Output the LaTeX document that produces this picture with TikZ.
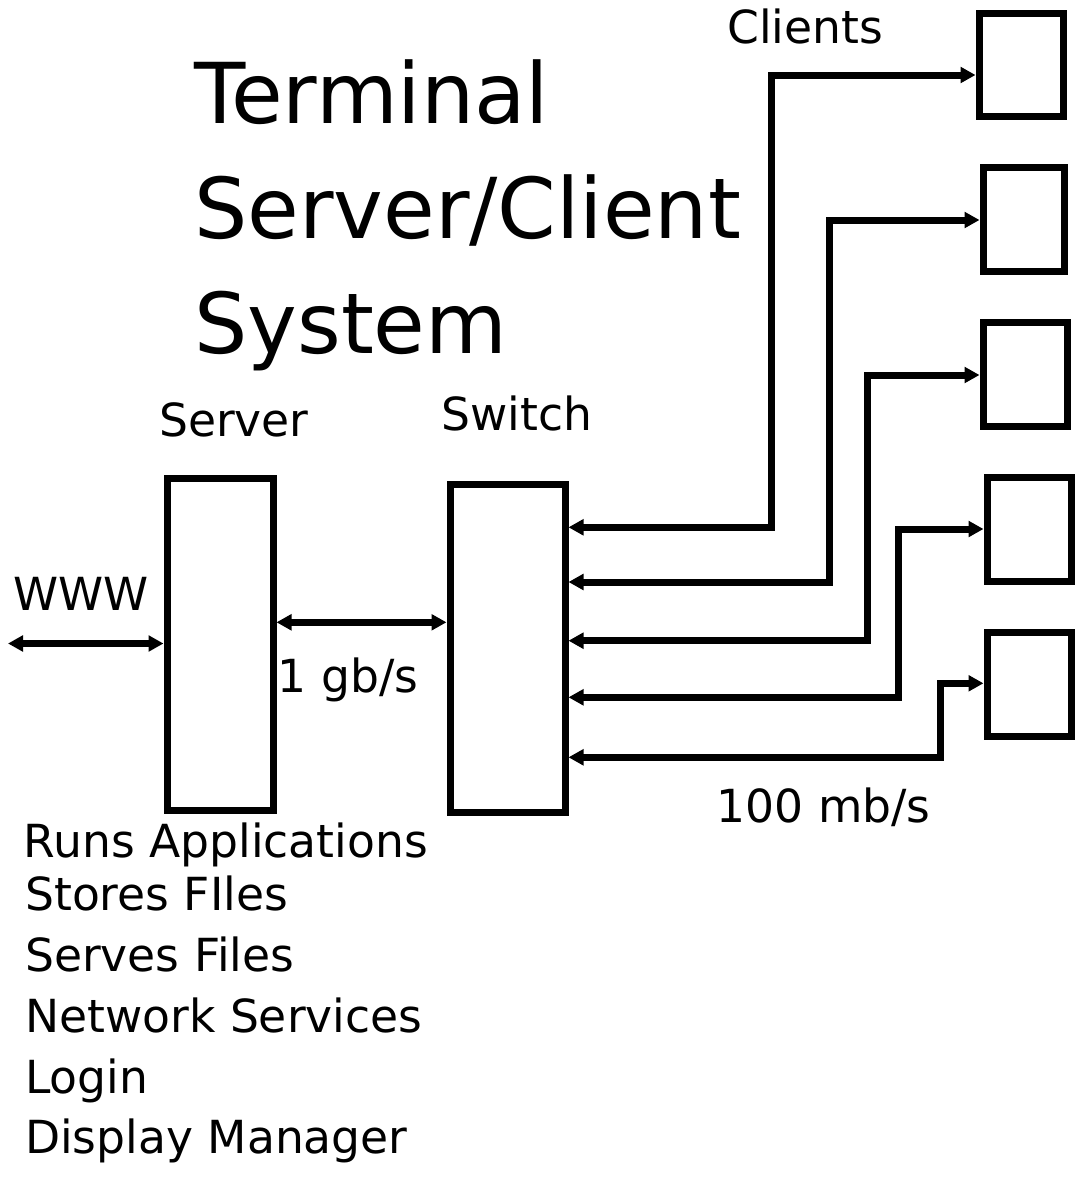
\documentclass[tikz,border=0pt]{standalone}
\usepackage{fontspec}
\setmainfont{DejaVu Sans}
\usetikzlibrary{arrows.meta}
\begin{document}
\begin{tikzpicture}[x=1pt,y=-1pt,
  box/.style={draw=black,line width=7pt,inner sep=0pt,fill=none},
  conn/.style={line width=7pt,{Triangle[length=15pt,width=15.5pt]}-{Triangle[length=15pt,width=15.5pt]}},
  lbl/.style={anchor=base west,inner sep=0pt,font=\fontsize{45.6}{54}\selectfont},
  ttl/.style={anchor=base west,inner sep=0pt,font=\fontsize{84}{115}\selectfont}]
\useasboundingbox[fill=white] (0,0) rectangle (1075,1186);
% title
\node[ttl] (t1) at (194,123.3) {Terminal};
\node[ttl] (t2) at (194,238.3) {Server/Client};
\node[ttl] (t3) at (194,353.3) {System};
% labels
\node[lbl] (lclients) at (727,43) {Clients};
\node[lbl] (lserver) at (159,436) {Server};
\node[lbl] (lswitch) at (441.5,430) {Switch};
\node[lbl] (lwww) at (13.5,610) {WWW};
\node[lbl] (lgb) at (277.5,692) {1 gb/s};
\node[lbl] (lmb) at (716.5,822) {100 mb/s};
% list
\node[lbl] (r1) at (23.5,857) {Runs Applications};
\node[lbl] (r2) at (25,910) {Stores FIles};
\node[lbl] (r3) at (25,971.7) {Serves Files};
\node[lbl] (r4) at (25,1032) {Network Services};
\node[lbl] (r5) at (25,1093.3) {Login};
\node[lbl] (r6) at (25,1153.5) {Display Manager};
% boxes
\node[box,minimum width=106pt,minimum height=332.5pt] (srv) at (220,644.25) {};
\node[box,minimum width=115pt,minimum height=327.5pt] (sw) at (507.5,648.25) {};
\node[box,minimum width=84pt,minimum height=103pt] (c1) at (1021,65) {};
\node[box,minimum width=81pt,minimum height=104pt] (c2) at (1023.5,219.5) {};
\node[box,minimum width=84.5pt,minimum height=104pt] (c3) at (1025.25,374.5) {};
\node[box,minimum width=84pt,minimum height=104pt] (c4) at (1029,529) {};
\node[box,minimum width=84pt,minimum height=104pt] (c5) at (1029,684) {};
% coordinates
\coordinate (net) at (8,643.5);
\coordinate (g) at (0,622.3);
\coordinate (j1) at (771.7,527.3);
\coordinate (j2) at (829.3,582);
\coordinate (j3) at (867.7,640.7);
\coordinate (j4) at (898.3,697.3);
\coordinate (j5) at (940,757.3);
\coordinate (a1) at (0,75);
\coordinate (a2) at (0,220);
\coordinate (a3) at (0,375);
\coordinate (a4) at (0,529);
\coordinate (a5) at (0,683.3);
% connectors
\draw[conn] (net) -- (srv.west |- net);
\draw[conn] (srv.east |- g) -- (sw.west |- g);
\draw[conn] (sw.east |- j1) -- (j1) -- (j1 |- a1) -- (c1.west |- a1);
\draw[conn] (sw.east |- j2) -- (j2) -- (j2 |- a2) -- (c2.west |- a2);
\draw[conn] (sw.east |- j3) -- (j3) -- (j3 |- a3) -- (c3.west |- a3);
\draw[conn] (sw.east |- j4) -- (j4) -- (j4 |- a4) -- (c4.west |- a4);
\draw[conn] (sw.east |- j5) -- (j5) -- (j5 |- a5) -- (c5.west |- a5);
\end{tikzpicture}
\end{document}
